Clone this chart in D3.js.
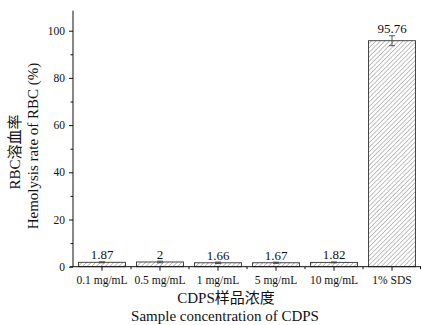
<!DOCTYPE html>
<html><head><meta charset="utf-8">
<script src="https://cdn.jsdelivr.net/npm/d3@7"></script>
<style>
body{margin:0;background:#fff;}
svg{display:block;font-family:"Liberation Serif","Times New Roman","Noto Sans CJK SC",serif;}
</style></head>
<body>
<svg id="c" width="421" height="325"></svg>
<script>
const categories = ["0.1 mg/mL","0.5 mg/mL","1 mg/mL","5 mg/mL","10 mg/mL","1% SDS"];
const values = [1.87, 2, 1.66, 1.67, 1.82, 95.76];
const valueLabels = ["1.87","2","1.66","1.67","1.82","95.76"];
const errors = [0.2, 0.35, 0.3, 0.25, 0.2, 2.1];
const yTicks = [0,20,40,60,80,100];
const yMinorTicks = [10,30,50,70,90];

const svg = d3.select("#c");
const x = d3.scaleBand().domain(categories).range([73,421]).paddingInner(0.19).paddingOuter(0.095);
const y = d3.scaleLinear().domain([0,108.5]).range([266.7, 266.7-108.5*2.36]);

const defs = svg.append("defs");
const pat = defs.append("pattern").attr("id","hatch").attr("patternUnits","userSpaceOnUse")
  .attr("width",3.2).attr("height",3.2).attr("patternTransform","rotate(45)");
pat.append("rect").attr("width",3.2).attr("height",3.2).attr("fill","#fff");
pat.append("line").attr("x1",0).attr("y1",0).attr("x2",0).attr("y2",3.2)
  .attr("stroke","#666").attr("stroke-width",0.8);

// bars
svg.append("g").selectAll("rect").data(values).join("rect")
  .attr("x",(d,i)=>x(categories[i])).attr("width",x.bandwidth())
  .attr("y",d=>y(d)).attr("height",d=>y(0)-y(d))
  .attr("fill","url(#hatch)").attr("stroke","#333").attr("stroke-width",0.9);

// error bars
const eg = svg.append("g").attr("stroke","#444").attr("stroke-width",0.9);
values.forEach((v,i)=>{
  const cx = x(categories[i]) + x.bandwidth()/2;
  const t = y(v+errors[i]), b = y(v-errors[i]);
  eg.append("line").attr("x1",cx).attr("x2",cx).attr("y1",t).attr("y2",b);
  eg.append("line").attr("x1",cx-3).attr("x2",cx+3).attr("y1",t).attr("y2",t);
  eg.append("line").attr("x1",cx-3).attr("x2",cx+3).attr("y1",b).attr("y2",b);
});

// value labels
svg.append("g").selectAll("text").data(values).join("text")
  .attr("x",(d,i)=>x(categories[i])+x.bandwidth()/2)
  .attr("y",(d,i)=>y(d+errors[i])-2.5)
  .attr("text-anchor","middle").attr("font-size","13px").attr("fill","#111")
  .text((d,i)=>valueLabels[i]);

// y axis
const ya = svg.append("g").attr("transform","translate(73,0)")
  .call(d3.axisLeft(y).tickValues(yTicks).tickSize(4).tickPadding(4).tickFormat(d3.format("d")));
ya.select(".domain").attr("d",`M0,${y(108.5)}V${y(0)}`).attr("stroke","#111");
ya.selectAll(".tick line").attr("stroke","#111");
ya.selectAll(".tick text").attr("font-size","11.5px").attr("font-family","Liberation Serif").attr("fill","#111");
const ym = svg.append("g").attr("transform","translate(73,0)")
  .call(d3.axisLeft(y).tickValues(yMinorTicks).tickSize(2.5).tickFormat(""));
ym.select(".domain").remove();
ym.selectAll(".tick line").attr("stroke","#111");

// x axis
const xa = svg.append("g").attr("transform",`translate(0,${y(0)})`)
  .call(d3.axisBottom(x).tickSize(4).tickPadding(5));
xa.select(".domain").attr("d","M70,0H421").attr("stroke","#111");
xa.selectAll(".tick line").attr("stroke","#111");
xa.selectAll(".tick text").attr("font-size","11.5px").attr("font-family","Liberation Serif").attr("fill","#111");
// minor ticks at band boundaries
const bounds = categories.map(c=>x(c)-x.step()*x.paddingInner()/2).slice(1).concat([421-0.5]);
svg.append("g").selectAll("line").data(bounds).join("line")
  .attr("x1",d=>d).attr("x2",d=>d).attr("y1",y(0)).attr("y2",y(0)+2.5).attr("stroke","#111");

// titles
svg.append("text").attr("x",226).attr("y",303).attr("text-anchor","middle")
  .attr("font-size","15px").attr("fill","#111").text("CDPS样品浓度");
svg.append("text").attr("x",225).attr("y",321).attr("text-anchor","middle")
  .attr("font-size","15px").attr("fill","#111").text("Sample concentration of CDPS");
svg.append("text").attr("transform","translate(20,152) rotate(-90)").attr("text-anchor","middle")
  .attr("font-size","15px").attr("fill","#111").text("RBC溶血率");
svg.append("text").attr("transform","translate(38,146) rotate(-90)").attr("text-anchor","middle")
  .attr("font-size","15px").attr("fill","#111").text("Hemolysis rate of RBC (%)");
</script>
</body></html>
